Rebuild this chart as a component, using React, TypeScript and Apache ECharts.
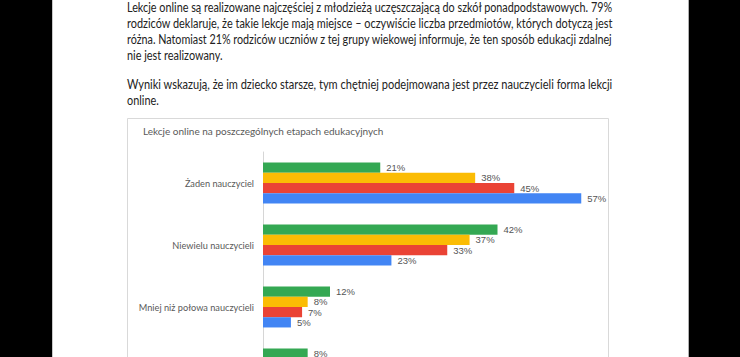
import React, { useEffect, useRef } from "react";
import * as echarts from "echarts";

const categories = [
  "Żaden nauczyciel",
  "Niewielu nauczycieli",
  "Mniej niż połowa nauczycieli",
  "Ponad połowa nauczycieli",
];
const seriesNames = ["Szkoła ponadpodstawowa", "Klasy 7–8", "Klasy 4–6", "Klasy 1–3"];
// Values of the 4th group other than green are not visible in the reference.
const greenValues = [21, 42, 12, 8];
const yellowValues = [38, 37, 8, null];
const redValues = [45, 33, 7, null];
const blueValues = [57, 23, 5, null];
const seriesColors = ["#34A853", "#FBBC04", "#EA4335", "#4285F4"];
const chartTitle = "Lekcje online na poszczególnych etapach edukacyjnych";
const visibleCategoryCount = 3;

const textLines = [
  { text: "Lekcje online są realizowane najczęściej z młodzieżą uczęszczającą do szkół ponadpodstawowych. 79%", y: 7, justify: true },
  { text: "rodziców deklaruje, że takie lekcje mają miejsce – oczywiście liczba przedmiotów, których dotyczą jest", y: 23, justify: true },
  { text: "różna. Natomiast 21% rodziców uczniów z tej grupy wiekowej informuje, że ten sposób edukacji zdalnej", y: 39, justify: true },
  { text: "nie jest realizowany.", y: 55, justify: false },
  { text: "Wyniki wskazują, że im dziecko starsze, tym chętniej podejmowana jest przez nauczycieli forma lekcji", y: 84, justify: true },
  { text: "online.", y: 100, justify: false },
];

const TEXT_FONT = "13px Lato";
const TEXT_LEFT = 127;
const TEXT_RIGHT = 613;
const CANVAS_H = 430;

export default function App() {
  const ref = useRef<HTMLDivElement>(null);

  useEffect(() => {
    if (!ref.current) return;
    const chart = echarts.init(ref.current, null, { renderer: "svg" });

    const ctx = document.createElement("canvas").getContext("2d")!;
    ctx.font = TEXT_FONT;
    const target = TEXT_RIGHT - TEXT_LEFT;
    const scales = textLines.map((l) => target / ctx.measureText(l.text).width);
    const justScales = scales.filter((_, i) => textLines[i].justify);
    const avgScale = justScales.reduce((a, b) => a + b, 0) / justScales.length;

    const textEls = textLines.map((l, i) => ({
      type: "text",
      x: TEXT_LEFT,
      y: l.y,
      scaleX: l.justify ? scales[i] : avgScale,
      style: {
        text: l.text,
        font: TEXT_FONT,
        fill: "#222",
        align: "left",
        verticalAlign: "middle",
      },
    }));

    const allValues = [greenValues, yellowValues, redValues, blueValues];

    chart.setOption({
      animation: false,
      backgroundColor: "#ffffff",
      grid: { left: 263, top: 152, width: 335, height: 248, containLabel: false },
      xAxis: {
        type: "value",
        min: 0,
        max: 60,
        show: false,
        splitLine: { show: false },
      },
      yAxis: {
        type: "category",
        inverse: true,
        data: categories,
        axisLine: { show: true, lineStyle: { color: "#d6d6d6", width: 1 } },
        axisTick: { show: false },
        axisLabel: {
          fontFamily: "Lato",
          fontSize: 9.2,
          color: "#595959",
          margin: 9,
          formatter: (v: string, idx: number) => (idx < visibleCategoryCount ? v : ""),
        },
      },
      series: allValues.map((vals, i) => ({
        name: seriesNames[i],
        type: "bar",
        data: vals,
        barGap: "0%",
        barCategoryGap: "34%",
        itemStyle: { color: seriesColors[i] },
        label: {
          show: true,
          position: "right",
          distance: 6,
          formatter: "{c}%",
          fontFamily: "Liberation Sans",
          fontSize: 9.5,
          color: "#555",
        },
      })),
      graphic: [
        { type: "rect", shape: { x: 0, y: 0, width: 52, height: CANVAS_H }, style: { fill: "#000" } },
        { type: "rect", shape: { x: 689, y: 0, width: 51, height: CANVAS_H }, style: { fill: "#000" } },
        { type: "line", shape: { x1: 688.5, y1: 0, x2: 688.5, y2: CANVAS_H }, style: { stroke: "#b0b0b0", lineWidth: 1 } },
        { type: "line", shape: { x1: 52.5, y1: 0, x2: 52.5, y2: CANVAS_H }, style: { stroke: "#c8c8c8", lineWidth: 1 } },
        {
          type: "rect",
          shape: { x: 127.5, y: 118.5, width: 481, height: 320 },
          style: { fill: "none", stroke: "#d9d9d9", lineWidth: 1 },
        },
        {
          type: "text",
          x: 143,
          y: 131,
          style: {
            text: chartTitle,
            font: "10px Lato",
            fill: "#595959",
            align: "left",
            verticalAlign: "middle",
          },
        },
        ...textEls,
      ],
    });

    return () => chart.dispose();
  }, []);

  return (
    <div style={{ position: "fixed", left: 0, top: 0, width: 740, height: 357, overflow: "hidden", background: "#fff" }}>
      <div ref={ref} style={{ width: 740, height: CANVAS_H }} />
    </div>
  );
}
